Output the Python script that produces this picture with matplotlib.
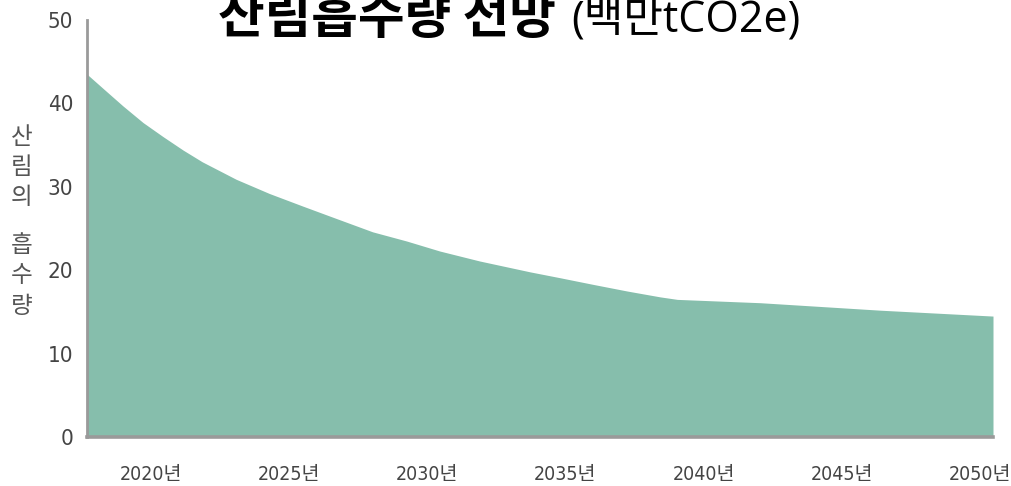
import matplotlib
matplotlib.use('Agg')
import matplotlib.pyplot as plt

# data (million tCO2e)
years = [2017.68, 2018.26, 2018.98, 2019.71, 2020.44, 2021.16, 2021.85, 2023.08,
         2024.28, 2025.48, 2026.46, 2028.02, 2029.25, 2030.45, 2031.90, 2033.72,
         2034.80, 2036.00, 2037.24, 2038.43, 2039.05, 2042.06, 2046.42, 2050.48]
absorption = [43.5, 41.8, 39.7, 37.7, 36.0, 34.4, 33.0, 30.9,
              29.2, 27.7, 26.5, 24.6, 23.5, 22.3, 21.1, 19.8,
              19.1, 18.3, 17.5, 16.8, 16.5, 16.1, 15.2, 14.5]

tick_years = [2020, 2025, 2030, 2035, 2040, 2045, 2050]
tick_labels = [f'{y}년' for y in tick_years]
y_ticks = [0, 10, 20, 30, 40, 50]
ylabel_chars = ['산', '림', '의', '흡', '수', '량']

narrow = ['DejaVu Sans', 'Noto Sans CJK KR']
plt.rcParams['font.family'] = ['Noto Sans CJK KR', 'DejaVu Sans']

fig = plt.figure(figsize=(10.11, 4.86), dpi=100)
ax = fig.add_axes([87 / 1011, 1 - 437 / 486, (993 - 87) / 1011, (437 - 20) / 486])

ax.fill_between(years, absorption, 0, color='#86BEAC', linewidth=0)
ax.set_xlim(years[0], years[-1])
ax.set_ylim(0, 50)

for s in ['top', 'right']:
    ax.spines[s].set_visible(False)
ax.spines['left'].set_color('#9a9a9a')
ax.spines['left'].set_linewidth(2.0)
ax.spines['bottom'].set_color('#9a9a9a')
ax.spines['bottom'].set_linewidth(2.6)

ax.set_yticks(y_ticks)
ax.set_yticklabels([str(v) for v in y_ticks], family=narrow, fontstretch='condensed',
                   fontsize=16, color='#444444')
ax.set_xticks(tick_years)
ax.set_xticklabels(tick_labels, family=narrow, fontstretch='condensed',
                   fontsize=14, color='#444444')
ax.tick_params(axis='y', length=0, pad=10)
ax.tick_params(axis='x', length=0, pad=20)

# stacked vertical y label
centers = [138, 167, 197, 245, 275, 306]
for ch, cy in zip(ylabel_chars, centers):
    fig.text(22 / 1011, 1 - cy / 486, ch, ha='center', va='center',
             fontsize=17, color='#555555')

# title
t1 = fig.text(218 / 1011, 1 - 33 / 486, '산림흡수량 전망', ha='left', va='baseline',
              fontsize=36.5, fontweight='bold', color='black')
fig.canvas.draw()
bb = t1.get_window_extent()
fig.text((bb.x1 + 15) / 1011, 1 - 33 / 486, '(백만tCO2e)', ha='left', va='baseline',
         fontsize=31, color='black', family=['Open Sans', 'Noto Sans CJK KR'])

fig.savefig('out.png', dpi=100)
